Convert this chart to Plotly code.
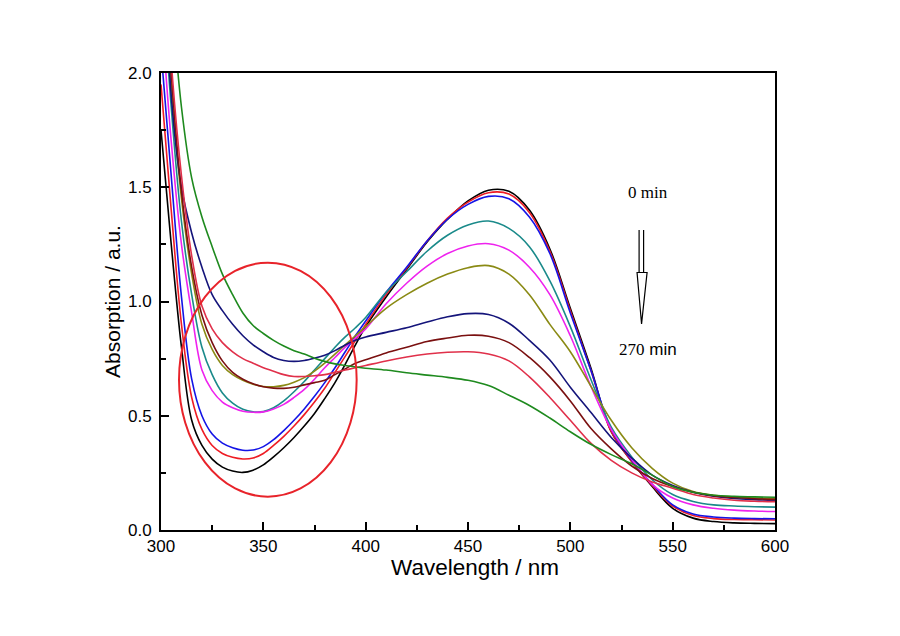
import plotly.graph_objects as go

wavelength = [300, 305, 310, 315, 320, 325, 330, 335, 340, 345, 350, 355, 360, 365, 370, 375,
              380, 385, 390, 395, 400, 410, 420, 430, 440, 450, 460, 470, 480, 490, 500,
              510, 520, 530, 540, 550, 560, 570, 580, 590, 600]

abs_black = [1.75, 1.25, 0.80, 0.48, 0.37, 0.31, 0.275, 0.258, 0.252, 0.262, 0.285, 0.32, 0.36, 0.405, 0.455, 0.51,
             0.575, 0.645, 0.725, 0.81, 0.89, 1.02, 1.14, 1.26, 1.36, 1.44, 1.487, 1.482, 1.40, 1.23, 0.97,
             0.71, 0.43, 0.30, 0.19, 0.095, 0.052, 0.037, 0.031, 0.029, 0.028]
abs_red = [1.95, 1.40, 0.90, 0.58, 0.44, 0.37, 0.335, 0.318, 0.311, 0.315, 0.335, 0.37, 0.41, 0.455, 0.505, 0.56,
           0.62, 0.69, 0.76, 0.83, 0.90, 1.03, 1.145, 1.265, 1.365, 1.435, 1.476, 1.47, 1.39, 1.22, 0.96,
           0.70, 0.43, 0.30, 0.195, 0.105, 0.063, 0.05, 0.046, 0.045, 0.044]
abs_blue = [2.10, 1.55, 1.02, 0.66, 0.50, 0.42, 0.38, 0.36, 0.349, 0.35, 0.365, 0.395, 0.435, 0.48, 0.53, 0.585,
            0.645, 0.71, 0.78, 0.85, 0.915, 1.04, 1.15, 1.265, 1.36, 1.425, 1.46, 1.45, 1.37, 1.21, 0.95,
            0.70, 0.44, 0.305, 0.20, 0.11, 0.07, 0.057, 0.052, 0.05, 0.049]
abs_teal = [2.5, 1.85, 1.35, 1.03, 0.80, 0.68, 0.60, 0.555, 0.528, 0.517, 0.518, 0.535, 0.565, 0.605, 0.65, 0.70,
            0.75, 0.80, 0.845, 0.885, 0.93, 1.04, 1.13, 1.22, 1.29, 1.335, 1.352, 1.32, 1.24, 1.09, 0.89,
            0.66, 0.45, 0.32, 0.22, 0.155, 0.125, 0.11, 0.105, 0.102, 0.10]
abs_magenta = [2.3, 1.7, 1.25, 0.95, 0.70, 0.61, 0.56, 0.535, 0.52, 0.515, 0.517, 0.53, 0.55, 0.58, 0.615, 0.66,
               0.71, 0.755, 0.80, 0.84, 0.88, 0.99, 1.08, 1.155, 1.21, 1.243, 1.253, 1.225, 1.15, 1.03, 0.85,
               0.63, 0.44, 0.31, 0.20, 0.14, 0.11, 0.095, 0.087, 0.083, 0.081]
abs_olive = [2.6, 1.95, 1.45, 1.12, 0.90, 0.79, 0.72, 0.68, 0.655, 0.638, 0.628, 0.627, 0.633, 0.647, 0.667, 0.695,
             0.73, 0.77, 0.81, 0.85, 0.89, 0.97, 1.03, 1.08, 1.12, 1.148, 1.157, 1.12, 1.03, 0.90, 0.78,
             0.63, 0.48, 0.36, 0.27, 0.205, 0.168, 0.152, 0.145, 0.14, 0.138]
abs_navy = [2.8, 1.9, 1.5, 1.30, 1.15, 1.03, 0.96, 0.90, 0.85, 0.81, 0.78, 0.755, 0.742, 0.738, 0.742, 0.752,
            0.765, 0.785, 0.81, 0.83, 0.845, 0.865, 0.885, 0.91, 0.933, 0.947, 0.943, 0.905, 0.83, 0.744, 0.625,
            0.515, 0.405, 0.315, 0.24, 0.195, 0.165, 0.148, 0.138, 0.133, 0.13]
abs_maroon = [2.7, 2.0, 1.48, 1.15, 0.94, 0.82, 0.74, 0.69, 0.66, 0.64, 0.627, 0.621, 0.62, 0.625, 0.635, 0.645,
              0.655, 0.68, 0.705, 0.73, 0.745, 0.775, 0.80, 0.825, 0.84, 0.852, 0.848, 0.82, 0.755, 0.67, 0.565,
              0.445, 0.355, 0.28, 0.225, 0.19, 0.165, 0.15, 0.142, 0.137, 0.134]
abs_crimson = [2.8, 2.05, 1.55, 1.20, 0.98, 0.88, 0.82, 0.78, 0.75, 0.73, 0.71, 0.695, 0.68, 0.672, 0.672, 0.675,
               0.68, 0.69, 0.70, 0.71, 0.72, 0.74, 0.757, 0.77, 0.778, 0.78, 0.77, 0.74, 0.67, 0.58, 0.48,
               0.38, 0.305, 0.25, 0.21, 0.183, 0.155, 0.14, 0.13, 0.126, 0.124]
abs_green = [3.0, 2.35, 1.85, 1.54, 1.37, 1.24, 1.12, 1.03, 0.95, 0.895, 0.86, 0.83, 0.805, 0.785, 0.77, 0.752,
             0.738, 0.727, 0.72, 0.713, 0.708, 0.70, 0.688, 0.678, 0.668, 0.655, 0.632, 0.59, 0.545, 0.49, 0.43,
             0.375, 0.33, 0.29, 0.24, 0.19, 0.165, 0.152, 0.147, 0.145, 0.143]

series = [
    ("0 min", abs_black, "#000000"),
    ("30 min", abs_red, "#ee1c24"),
    ("60 min", abs_blue, "#1414e6"),
    ("90 min", abs_teal, "#1a8a8a"),
    ("120 min", abs_magenta, "#ee22ee"),
    ("150 min", abs_olive, "#8a8a14"),
    ("180 min", abs_navy, "#14147a"),
    ("210 min", abs_maroon, "#7a1010"),
    ("240 min", abs_crimson, "#e0304a"),
    ("270 min", abs_green, "#1e8a1e"),
]

fig = go.Figure()
for name, ys, col in series:
    fig.add_trace(go.Scatter(x=wavelength, y=ys, mode="lines", name=name,
                             line=dict(color=col, width=1.6, shape="spline", smoothing=1.0),
                             cliponaxis=True))

axis_common = dict(showline=True, linecolor="black", linewidth=2, mirror=True,
                   ticks="inside", ticklen=8, tickwidth=1.5, tickcolor="black",
                   showgrid=False, zeroline=False,
                   tickfont=dict(family="Liberation Sans, Arial", size=17, color="black"))

fig.update_xaxes(range=[300, 600], tickvals=[300, 350, 400, 450, 500, 550, 600],
                 minor=dict(ticks="inside", ticklen=5, tickwidth=1.5, tickcolor="black",
                            tickvals=[325, 375, 425, 475, 525, 575]),
                 ticklabelstandoff=0,
                 **axis_common)
fig.update_yaxes(range=[0, 2.0], tickvals=[0, 0.5, 1.0, 1.5, 2.0], tickformat=".1f",
                 minor=dict(ticks="inside", ticklen=5, tickwidth=1.5, tickcolor="black",
                            tickvals=[0.25, 0.75, 1.25, 1.75]),
                 title=dict(text="Absorption / a.u.", standoff=2,
                            font=dict(family="Liberation Sans, Arial", size=21, color="black")),
                 ticklabelstandoff=4,
                 **axis_common)

# x-axis title, placed tight under the tick labels as in the original
fig.add_annotation(x=0.5114, y=-0.0810, xref="paper", yref="paper", text="Wavelength / nm",
                   showarrow=False, xanchor="center", yanchor="middle",
                   font=dict(family="Liberation Sans, Arial", size=22.5, color="black"))

# ellipse highlighting the 340-360 nm region
fig.add_shape(type="circle", xref="x", yref="y", x0=308.8, x1=395.6, y0=0.146, y1=1.170,
              line=dict(color="#e8232a", width=2))

# hollow arrow 0 min -> 270 min
fig.add_shape(type="line", xref="x", yref="y", x0=533.6, x1=533.6, y0=1.313, y1=1.127,
              line=dict(color="black", width=1.2))
fig.add_shape(type="line", xref="x", yref="y", x0=535.8, x1=535.8, y0=1.313, y1=1.127,
              line=dict(color="black", width=1.2))
fig.add_shape(type="path", xref="x", yref="y",
              path="M 532.6 1.127 L 537.5 1.127 L 534.8 0.902 Z",
              line=dict(color="black", width=1.2), fillcolor="white")

fig.add_annotation(x=537.8, y=1.475, xref="x", yref="y", text="0 min", showarrow=False,
                   font=dict(family="Liberation Serif, Times New Roman", size=17, color="black"))
fig.add_annotation(x=537.8, y=0.788, xref="x", yref="y",
                   text="<span style='font-family:Liberation Serif'>270</span> min", showarrow=False,
                   font=dict(family="Liberation Sans, Arial", size=17, color="black"))

fig.update_layout(width=900, height=636, showlegend=False,
                  paper_bgcolor="white", plot_bgcolor="white",
                  margin=dict(l=161, r=125, t=73, b=106))

fig.write_html("out.html")
